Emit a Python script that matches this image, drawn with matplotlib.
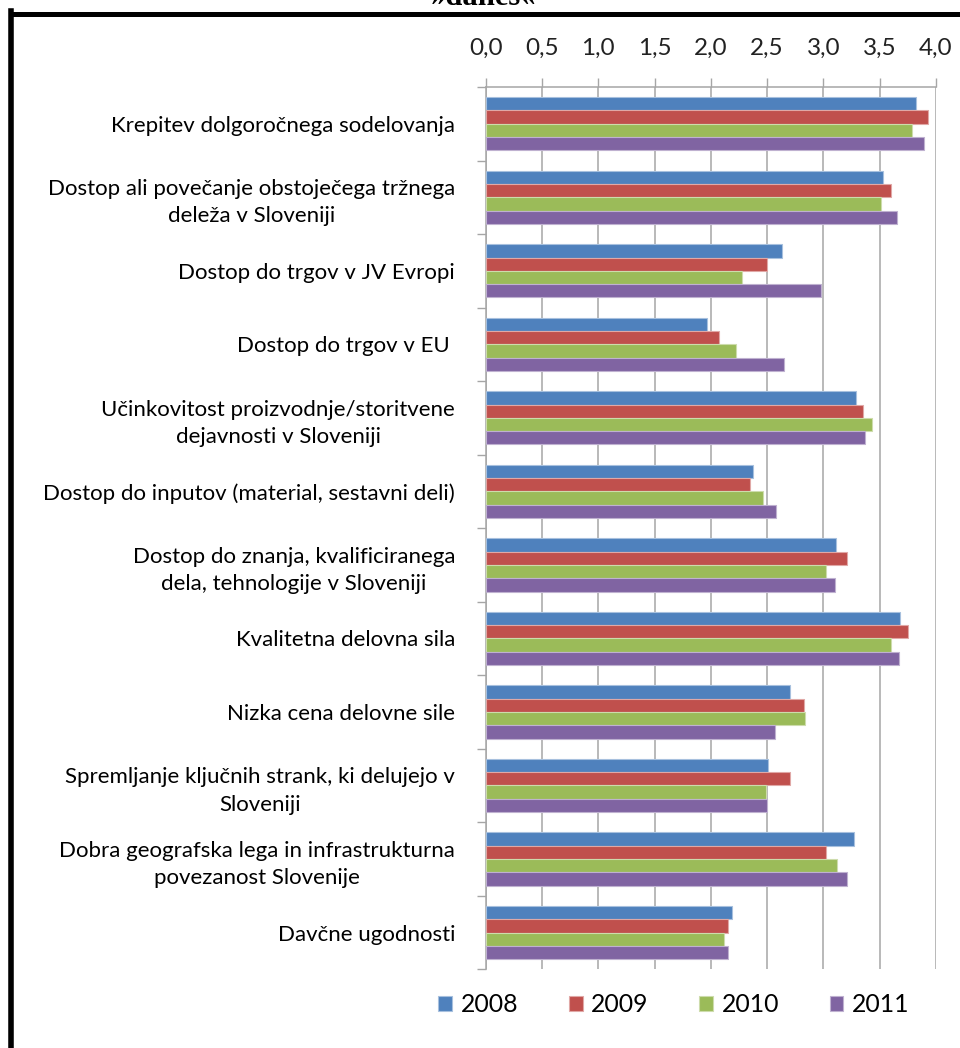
import numpy as np
import matplotlib
matplotlib.use("Agg")
import matplotlib.pyplot as plt
from matplotlib.lines import Line2D

plt.rcParams['font.family'] = ['Lato', 'DejaVu Sans']

categories = [
    "Krepitev dolgoročnega sodelovanja",
    "Dostop ali povečanje obstoječega tržnega\ndeleža v Sloveniji",
    "Dostop do trgov v JV Evropi",
    "Dostop do trgov v EU ",
    "Učinkovitost proizvodnje/storitvene\ndejavnosti v Sloveniji",
    "Dostop do inputov (material, sestavni deli)",
    "Dostop do znanja, kvalificiranega\ndela, tehnologije v Sloveniji",
    "Kvalitetna delovna sila",
    "Nizka cena delovne sile",
    "Spremljanje ključnih strank, ki delujejo v\nSloveniji",
    "Dobra geografska lega in infrastrukturna\npovezanost Slovenije",
    "Davčne ugodnosti",
]

years = ["2008", "2009", "2010", "2011"]
v2008 = [3.82, 3.53, 2.63, 1.97, 3.29, 2.37, 3.11, 3.68, 2.70, 2.51, 3.27, 2.19]
v2009 = [3.93, 3.60, 2.50, 2.07, 3.35, 2.35, 3.21, 3.75, 2.83, 2.70, 3.02, 2.15]
v2010 = [3.79, 3.51, 2.28, 2.22, 3.43, 2.46, 3.02, 3.60, 2.84, 2.49, 3.12, 2.12]
v2011 = [3.89, 3.65, 2.98, 2.65, 3.37, 2.58, 3.10, 3.67, 2.57, 2.50, 3.21, 2.15]

xticks = [0.0, 0.5, 1.0, 1.5, 2.0, 2.5, 3.0, 3.5, 4.0]
xticklabels = ["0,0", "0,5", "1,0", "1,5", "2,0", "2,5", "3,0", "3,5", "4,0"]

colors = ["#4f81bd", "#c0504d", "#9bbb59", "#8064a2"]
edges = ["#a7c0de", "#e0a8a6", "#cddcac", "#bfb1d0"]

W, H = 960, 1048
fig = plt.figure(figsize=(W / 100, H / 100), dpi=100)
ax = fig.add_axes([485.7 / W, 1 - 969.3 / H, (936 - 485.7) / W, (969.3 - 87) / H])

y = np.arange(len(categories))
h = 0.181
series = [v2008, v2009, v2010, v2011]
for i, (vals, c, e, lab) in enumerate(zip(series, colors, edges, years)):
    ax.barh(y + (i - 1.5) * h, vals, height=h, color=c, edgecolor=e,
            linewidth=0.8, label=lab, zorder=3)

ax.set_xlim(0, 4.0)
ax.set_ylim(len(categories) - 0.5, -0.5)

# value axis along the top
ax.xaxis.tick_top()
ax.set_xticks(xticks)
ax.set_xticklabels(xticklabels, fontsize=17.5, color="#222222")
ax.tick_params(axis="x", direction="out", length=6.5, width=1.0,
               color="#a6a6a6", pad=14)
ax.grid(axis="x", color="#a6a6a6", linewidth=1.1, zorder=0)

# category labels centred, boundaries marked with minor ticks
ax.set_yticks(y)
ax.set_yticklabels(categories, fontsize=16)
for t in ax.get_yticklabels():
    t.set_multialignment("center")
    t.set_linespacing(1.45)
ax.set_yticks(np.arange(-0.5, len(categories), 1.0), minor=True)
ax.tick_params(axis="y", which="major", length=0, pad=22)
ax.tick_params(axis="y", which="minor", direction="out", length=6.5,
               width=1.0, color="#a6a6a6")

for s in ["right", "bottom"]:
    ax.spines[s].set_visible(False)
for s in ["left", "top"]:
    ax.spines[s].set_color("#a6a6a6")
    ax.spines[s].set_linewidth(1.1)

handles = [plt.Rectangle((0, 0), 1, 1, facecolor=c, edgecolor=e, linewidth=0.8)
           for c, e in zip(colors, edges)]
fig.legend(handles, years, loc="center", bbox_to_anchor=(674 / W, 1 - 1005 / H),
           ncol=4, frameon=False, fontsize=17.8, handlelength=0.55,
           handleheight=0.55, handletextpad=0.35, columnspacing=2.05)

# heading and frame
fig.text(484 / W, 1 - 5 / H, "»danes«", family="Liberation Serif",
         fontweight="bold", fontsize=22, ha="center", va="baseline")
fig.add_artist(Line2D([10.5 / W, 10.5 / W], [1 - 11 / H, 0], color="black",
                      linewidth=4.0, transform=fig.transFigure,
                      solid_capstyle="projecting"))
fig.add_artist(Line2D([10.5 / W, 1.0], [1 - 13.5 / H, 1 - 13.5 / H],
                      color="black", linewidth=3.6, transform=fig.transFigure,
                      solid_capstyle="projecting"))

fig.savefig("out.png", dpi=100)
